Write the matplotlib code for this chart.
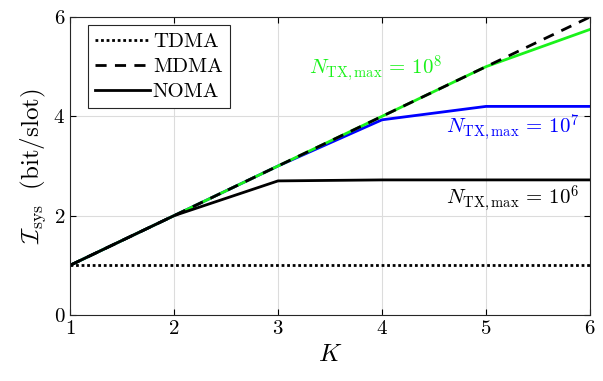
import matplotlib
matplotlib.use('Agg')
import matplotlib.pyplot as plt
import numpy as np

plt.rcParams['mathtext.fontset'] = 'cm'
plt.rcParams['font.family'] = 'serif'
plt.rcParams['font.serif'] = ['cmr10', 'DejaVu Serif']
plt.rcParams['axes.formatter.use_mathtext'] = True

# data
K = [1, 2, 3, 4, 5, 6]
tdma = [1, 1, 1, 1, 1, 1]
mdma = [1, 2, 3, 4, 5, 6]
noma_1e6 = [1, 2, 2.70, 2.72, 2.72, 2.72]
noma_1e7 = [1, 2, 3, 3.93, 4.20, 4.20]
noma_1e8 = [1, 2, 3, 4, 5, 5.75]

fig = plt.figure(figsize=(6.03, 3.81), dpi=100)
ax = fig.add_axes([70/603, 1 - 315/381, 520/603, 298/381])

# coloured curves first so the black ones sit on top
ax.plot(K, noma_1e7, color=(0.0, 0.0, 1.0), lw=2)
ax.plot(K, noma_1e8, color=(0.1, 0.95, 0.1), lw=2)
l1, = ax.plot(K, tdma, 'k', ls=(0, (1, 1)), lw=2, label='TDMA')
l2, = ax.plot(K, mdma, 'k', ls=(0, (4, 3)), lw=2, label='MDMA')
l3, = ax.plot(K, noma_1e6, 'k-', lw=2, label='NOMA')

ax.text(3.3, 4.95, r'$N_{\mathrm{TX,max}}\,=\,10^{8}$', color=(0.1, 0.95, 0.1),
        fontsize=15, ha='left', va='center')
ax.text(5.9, 3.76, r'$N_{\mathrm{TX,max}}\,=\,10^{7}$', color='blue',
        fontsize=15, ha='right', va='center')
ax.text(5.9, 2.33, r'$N_{\mathrm{TX,max}}\,=\,10^{6}$', color='black',
        fontsize=15, ha='right', va='center')

ax.set_xlim(1, 6)
ax.set_ylim(0, 6)
ax.set_xticks([1, 2, 3, 4, 5, 6])
ax.set_yticks([0, 2, 4, 6])
ax.grid(True, color='#dcdcdc', lw=0.8)
ax.tick_params(direction='in', top=True, right=True, labelsize=15, length=4)
for s in ax.spines.values():
    s.set_color('#262626')
ax.set_xlabel(r'$K$', fontsize=18)
ax.set_ylabel(r'$\mathcal{I}_{\mathrm{sys}}\ \ \mathrm{(bit/slot)}$', fontsize=18)

leg = ax.legend(handles=[l1, l2, l3], loc='upper left',
                bbox_to_anchor=(0.035, 0.972), borderaxespad=0,
                fontsize=15, fancybox=False, edgecolor='#262626',
                framealpha=1, handlelength=2.6, handletextpad=0.15,
                borderpad=0.35, labelspacing=0.3)
leg.get_frame().set_linewidth(0.8)

fig.savefig('out.png', dpi=100)
